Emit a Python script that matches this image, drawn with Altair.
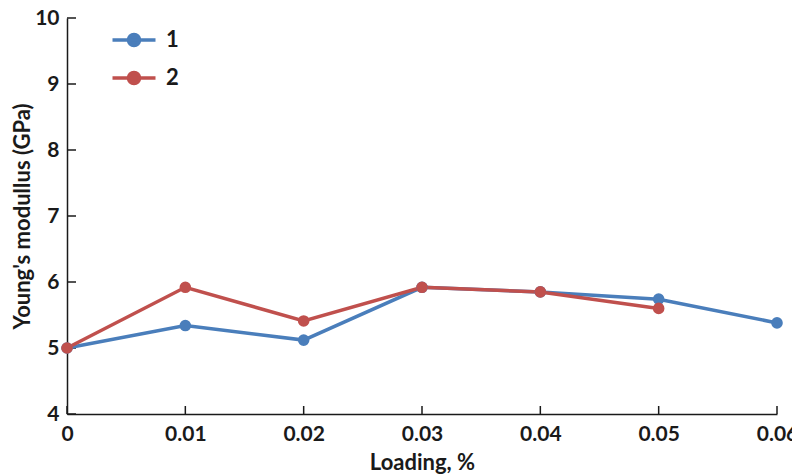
import altair as alt
import pandas as pd

loading = [0.0, 0.01, 0.02, 0.03, 0.04, 0.05, 0.06]
series1 = [5.00, 5.34, 5.12, 5.92, 5.85, 5.74, 5.38]
series2 = [5.00, 5.92, 5.41, 5.92, 5.85, 5.60]
series_names = ["1", "2"]
colors = ["#4A7EBB", "#C0504D"]
x_ticks = [0.0, 0.01, 0.02, 0.03, 0.04, 0.05, 0.06]
y_ticks = [4, 5, 6, 7, 8, 9, 10]

rows = []
for x, v in zip(loading, series1):
    rows.append({"x": x, "y": v, "s": "1"})
for x, v in zip(loading, series2):
    rows.append({"x": x, "y": v, "s": "2"})
df = pd.DataFrame(rows)

W, H = 710, 396
FONT = "Lato"

xs = alt.Scale(domain=[0, 0.06], nice=False, zero=False)
ys = alt.Scale(domain=[4, 10], nice=False, zero=False)
cs = alt.Scale(domain=series_names, range=colors)

leg_path = ("M-2.15,0L2.15,0M0.55,0A0.55,0.55 0 1 1 -0.55,0"
            "A0.55,0.55 0 1 1 0.55,0")

base = alt.Chart(df)

lines = base.mark_line(strokeWidth=3.5).encode(
    x=alt.X("x:Q", scale=xs,
            axis=alt.Axis(values=x_ticks, title="Loading, %",
                          labelExpr="datum.value == 0 ? '0' : format(datum.value, '.2f')",
                          titleBaseline="alphabetic", titleY=55, titleX=W / 2)),
    y=alt.Y("y:Q", scale=ys,
            axis=alt.Axis(values=y_ticks, format="d", title="Young's modullus (GPa)",
                          titleBaseline="middle", titleX=-45, titleY=H / 2)),
    color=alt.Color("s:N", scale=cs,
                    legend=alt.Legend(title=None, orient="none", legendX=55, legendY=10,
                                      symbolType=leg_path, symbolSize=400,
                                      symbolStrokeWidth=3.5, symbolFillColor=None,
                                      labelFontSize=22, labelFont=FONT,
                                      labelFontWeight="bold", labelColor="#1a1a1a",
                                      rowPadding=12, labelOffset=20)),
    detail="s:N",
)

points = base.mark_point(filled=True, size=135, opacity=1).encode(
    x=alt.X("x:Q", scale=xs),
    y=alt.Y("y:Q", scale=ys),
    color=alt.Color("s:N", scale=cs, legend=None),
)

ytick_df = pd.DataFrame({"v": y_ticks})
xtick_df = pd.DataFrame({"v": x_ticks})

ytick_rules = alt.Chart(ytick_df).mark_rule(color="#1a1a1a", strokeWidth=1.5).encode(
    y=alt.Y("v:Q", scale=ys), x=alt.value(0), x2=alt.value(9)
)
xtick_rules = alt.Chart(xtick_df).mark_rule(color="#1a1a1a", strokeWidth=1.5).encode(
    x=alt.X("v:Q", scale=xs), y=alt.value(H), y2=alt.value(H - 8)
)

chart = alt.layer(ytick_rules, xtick_rules, lines, points).properties(
    width=W, height=H,
    autosize=alt.AutoSizeParams(type="none"),
    padding={"left": 59, "top": 10, "right": 15, "bottom": 62},
).configure_view(stroke=None).configure_axis(
    grid=False, domainColor="#1a1a1a", domainWidth=1.5, ticks=False,
    labelFont=FONT, labelFontSize=21, labelFontWeight="bold", labelColor="#1a1a1a",
    titleFont=FONT, titleFontSize=22, titleFontWeight="bold", titleColor="#1a1a1a",
).configure_axisX(labelPadding=9, labelFlush=False).configure_axisY(
    labelPadding=8
)

chart.save("out.html", embed_options={"renderer": "svg", "actions": False})
